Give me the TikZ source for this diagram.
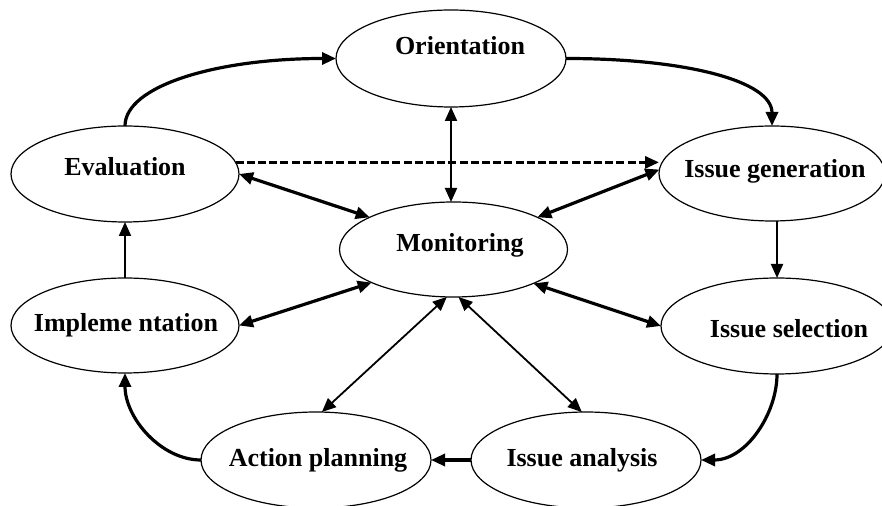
\documentclass[tikz,border=0pt]{standalone}
\usepackage{fontspec}
\setmainfont{Liberation Serif}
\usetikzlibrary{arrows.meta,shapes.geometric}
\begin{document}
\begin{tikzpicture}[x=0.5pt,y=-0.5pt,
  ell/.style={draw, ellipse, line width=0.6pt, inner sep=0pt, outer sep=0pt},
  lbl/.style={anchor=base, font=\fontsize{13}{15}\selectfont\bfseries, inner sep=0pt},
  tip/.style={-{Triangle[length=7pt,width=6pt]}},
  dtip/.style={{Triangle[length=7pt,width=6pt]}-{Triangle[length=7pt,width=6pt]}},
  cthick/.style={line width=1.6pt},
  cmed/.style={line width=1pt},
  cthin/.style={line width=0.9pt},
  dashline/.style={line width=1.5pt, dash pattern=on 4pt off 1.6pt}
]
\useasboundingbox (0,0) rectangle (882,506);
\clip (0,0) rectangle (882,506);
\fill[white] (0,0) rectangle (882,506);

% ellipses
\node[ell, minimum width=115pt, minimum height=48.5pt] (ori) at (451,58.5) {};
\node[ell, minimum width=114pt, minimum height=48pt]   (eva) at (125,174) {};
\node[ell, minimum width=113pt, minimum height=47.5pt] (gen) at (772,173.5) {};
\node[ell, minimum width=114pt, minimum height=47.5pt] (mon) at (453.5,249.5) {};
\node[ell, minimum width=114pt, minimum height=47.5pt] (imp) at (125,325.5) {};
\node[ell, minimum width=116pt, minimum height=48pt]   (sel) at (777,326) {};
\node[ell, minimum width=115pt, minimum height=48pt]   (act) at (316,460) {};
\node[ell, minimum width=115pt, minimum height=48pt]   (ana) at (586,460) {};

% labels
\node[lbl] (orit) at (460,55) {Orientation};
\node[lbl] (evat) at (125,176) {Evaluation};
\node[lbl] (gent) at (775,178) {Issue generation};
\node[lbl] (mont) at (460,252) {Monitoring};
\node[lbl] (impt) at (126,332) {Impleme ntation};
\node[lbl] (selt) at (789,338) {Issue selection};
\node[lbl] (actt) at (318,467) {Action planning};
\node[lbl] (anat) at (582,467) {Issue analysis};

% cycle
\draw[cthick, tip] (eva.north) .. controls +(0,-40) and +(-120,0) .. (ori.west);
\draw[cthick, tip] (ori.east) .. controls +(120,0) and +(0,-45) .. (gen.north);
\draw[cmed, tip] (gen.south -| sel.north) -- (sel.north);
\draw[cthick, tip] (sel.south) .. controls +(0,40) and +(45,0) .. (ana.east);
\draw[cthick, tip] (ana.west) -- (act.east);
\draw[cthick, tip] (act.west) .. controls +(-40,0) and +(0,45) .. (imp.south);
\draw[cmed, tip] (imp.north) -- (eva.south);

% dashed
\draw[dashline, tip] (eva.6) -- (gen.west |- eva.6);

% monitoring links
\draw[cmed, dtip] (ori.south) -- (ori.south |- mon.north);
\draw[cthick, dtip] (eva.east) -- (mon.159);
\draw[cthick, dtip] (gen.178) -- (mon.21);
\draw[cthick, dtip] (imp.east) -- (mon.202);
\draw[cthick, dtip] (sel.west) -- (mon.337);
\draw[cthin, dtip] (mon.262) -- (act.83);
\draw[cthin, dtip] (mon.276) -- (ana.95);
\end{tikzpicture}
\end{document}
